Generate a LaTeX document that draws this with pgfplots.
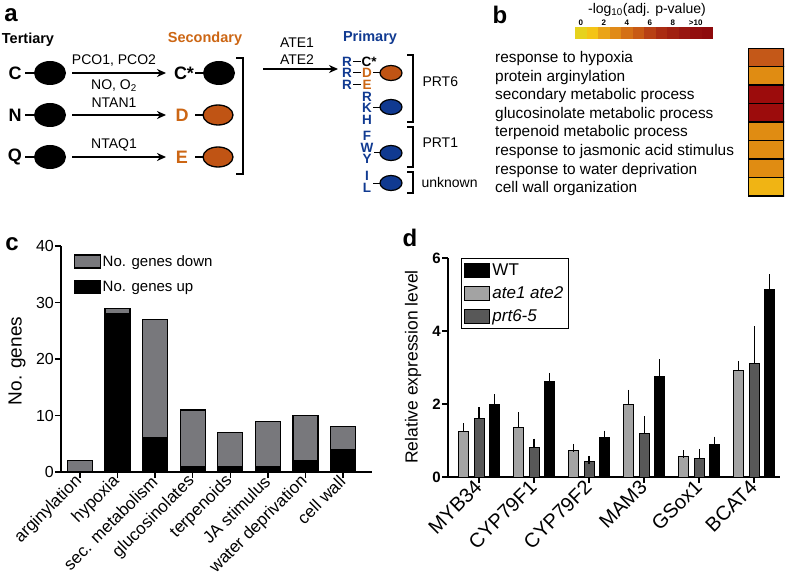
\documentclass[border=0pt]{standalone}
\usepackage{pgfplots}
\pgfplotsset{compat=1.18}
\usepackage{fontspec}
\setmainfont{Liberation Sans}
\usetikzlibrary{arrows.meta}
\definecolor{cgray}{RGB}{120,120,124}
\definecolor{lgray}{RGB}{163,163,163}
\definecolor{dgray}{RGB}{88,88,88}
\definecolor{orng}{RGB}{204,102,20}
\definecolor{orfill}{RGB}{192,84,20}
\definecolor{blu}{RGB}{16,58,145}
\definecolor{cA}{RGB}{230,210,30}
\definecolor{cB}{RGB}{244,196,22}
\definecolor{cC}{RGB}{234,164,24}
\definecolor{cD}{RGB}{224,138,24}
\definecolor{cE}{RGB}{212,112,22}
\definecolor{cF}{RGB}{200,90,20}
\definecolor{cG}{RGB}{184,64,20}
\definecolor{cH}{RGB}{170,44,18}
\definecolor{cI}{RGB}{160,32,16}
\definecolor{cJ}{RGB}{152,22,16}
\definecolor{cK}{RGB}{146,14,14}
\definecolor{cL}{RGB}{142,10,12}
\definecolor{hyp}{RGB}{196,88,24}
\definecolor{argc}{RGB}{224,140,18}
\definecolor{secc}{RGB}{156,12,12}
\definecolor{cwc}{RGB}{240,180,20}
\newcommand{\fs}[1]{\fontsize{#1}{#1}\selectfont}
\begin{document}
\begin{tikzpicture}
\path[use as bounding box] (0pt,0pt) rectangle (787pt,-583pt);
\begin{scope}[x=1pt,y=-1pt]
% ---------------- panel a ----------------
\node[font=\bfseries\fs{24}] at (11,15) {a};
\node[font=\bfseries\fs{14.5}] at (28,40) {Tertiary};
\node[font=\bfseries\fs{14.5}, text=orng] at (205,39) {Secondary};
\node[font=\bfseries\fs{14.5}, text=blu] at (370,38) {Primary};
\foreach \l/\y in {C/73,N/115,Q/157}{
  \node[font=\bfseries\fs{18}] at (15,\y) {\l};
  \draw[line width=1.2pt] (25,\y) -- (35,\y);
  \fill (50,\y) ellipse [x radius=16pt, y radius=12pt];
  \draw[line width=1.5pt, -{Stealth[length=9pt,width=8pt]}] (72,\y) -- (166,\y);
}
\node[font=\fs{14}] at (114,61) {PCO1, PCO2};
\node[font=\fs{14}] at (114,86) {NO, O\textsubscript{2}};
\node[font=\fs{14}] at (114,103) {NTAN1};
\node[font=\fs{14}] at (114,145) {NTAQ1};
\node[font=\bfseries\fs{18}] at (184,73) {C*};
\node[font=\bfseries\fs{18}, text=orng] at (182,115) {D};
\node[font=\bfseries\fs{18}, text=orng] at (182,157) {E};
\foreach \y in {73,115,157}{\draw[line width=1.2pt] (195,\y) -- (204,\y);}
\fill (219,73) ellipse [x radius=16pt, y radius=12pt];
\draw[line width=1.3pt, fill=orfill] (218,115) ellipse [x radius=15pt, y radius=10pt];
\draw[line width=1.3pt, fill=orfill] (218,157) ellipse [x radius=15pt, y radius=10pt];
\draw[line width=1.3pt] (236,58) -- (243,58) -- (243,174) -- (236,174);
\draw[line width=1.5pt, -{Stealth[length=9pt,width=8pt]}] (263,69) -- (338,69);
\node[font=\fs{14}] at (297,43) {ATE1};
\node[font=\fs{14}] at (297,60) {ATE2};
\begin{scope}[every node/.style={font=\bfseries\fs{13.5}, inner sep=0pt}]
\foreach \y in {62,73,85}{
  \node[text=blu] at (347,\y) {R};
  \draw[line width=1pt] (353,\y) -- (361,\y);
}
\node at (369,62) {C*};
\node[text=orng] at (367,73) {D};
\node[text=orng] at (367,85) {E};
\node[text=blu] at (367,97) {R};
\node[text=blu] at (367,108) {K};
\node[text=blu] at (367,120) {H};
\node[text=blu] at (367,136) {F};
\node[text=blu] at (367,148) {W};
\node[text=blu] at (367,159) {Y};
\node[text=blu] at (367,176) {I};
\node[text=blu] at (367,188) {L};
\end{scope}
\draw[line width=1pt] (373,73) -- (380,73);
\draw[line width=1pt] (373,108) -- (380,108);
\draw[line width=1pt] (374,153) -- (380,153);
\draw[line width=1pt] (373,183) -- (380,183);
\draw[line width=1.2pt, fill=orfill] (391,73) ellipse [x radius=11pt, y radius=7.5pt];
\draw[line width=1.2pt, fill=blu] (391,107) ellipse [x radius=11pt, y radius=7.5pt];
\draw[line width=1.2pt, fill=blu] (391,153) ellipse [x radius=11pt, y radius=7.5pt];
\draw[line width=1.2pt, fill=blu] (391,183) ellipse [x radius=11pt, y radius=7.5pt];
\draw[line width=1.3pt] (407,55) -- (413,55) -- (413,122) -- (407,122);
\draw[line width=1.3pt] (407,127) -- (413,127) -- (413,167) -- (407,167);
\draw[line width=1.3pt] (407,172) -- (413,172) -- (413,193) -- (407,193);
\node[font=\fs{14}, anchor=west] at (419,82) {PRT6};
\node[font=\fs{14}, anchor=west] at (419,143) {PRT1};
\node[font=\fs{14}, anchor=west] at (418,182) {unknown};
% ---------------- panel b text ----------------
\node[font=\bfseries\fs{24}] at (500,15) {b};
\node[font=\fs{14}] at (647,10) {-log\textsubscript{10}(adj. p-value)};
\begin{scope}[every node/.style={font=\fs{15.4}, anchor=base west, inner sep=0pt}]
\node at (495,63) {response to hypoxia};
\node at (495,81.5) {protein arginylation};
\node at (495,100) {secondary metabolic process};
\node at (495,118.5) {glucosinolate metabolic process};
\node at (495,137) {terpenoid metabolic process};
\node at (495,155.5) {response to jasmonic acid stimulus};
\node at (495,174) {response to water deprivation};
\node at (495,192.5) {cell wall organization};
\end{scope}
% ---------------- panel c, d text ----------------
\node[font=\bfseries\fs{24}] at (12,244) {c};
\node[font=\fs{19}, rotate=90] at (17,361) {No. genes};
\node[font=\bfseries\fs{24}] at (410,238) {d};
\node[font=\fs{17.5}, rotate=90] at (413,367) {Relative expression level};
\end{scope}
% ---------------- panel b axes ----------------
\begin{axis}[at={(575pt,-39pt)}, anchor=south west, scale only axis,
  width=138pt, height=12pt, xmin=0, xmax=12, ymin=-0.5, ymax=0.5,
  xbar stacked, bar width=12pt,
  axis x line*=top, axis y line=none, x axis line style={draw=none},
  xtick={0.5,2.5,4.5,6.5,8.5,10.5}, xticklabels={0,2,4,6,8,>10},
  xticklabel style={font=\bfseries\fs{8}, inner sep=1pt}, major tick length=0pt]
\addplot[fill=cA, draw=none] coordinates {(1,0)};
\addplot[fill=cB, draw=none] coordinates {(1,0)};
\addplot[fill=cC, draw=none] coordinates {(1,0)};
\addplot[fill=cD, draw=none] coordinates {(1,0)};
\addplot[fill=cE, draw=none] coordinates {(1,0)};
\addplot[fill=cF, draw=none] coordinates {(1,0)};
\addplot[fill=cG, draw=none] coordinates {(1,0)};
\addplot[fill=cH, draw=none] coordinates {(1,0)};
\addplot[fill=cI, draw=none] coordinates {(1,0)};
\addplot[fill=cJ, draw=none] coordinates {(1,0)};
\addplot[fill=cK, draw=none] coordinates {(1,0)};
\addplot[fill=cL, draw=none] coordinates {(1,0)};
\end{axis}
\begin{axis}[at={(748pt,-196pt)}, anchor=south west, scale only axis,
  width=36pt, height=148pt, xmin=-0.5, xmax=0.5, ymin=0, ymax=8,
  hide axis, ybar stacked, bar width=36pt]
\addplot[fill=cwc, draw=black, line width=1.5pt] coordinates {(0,1)};
\addplot[fill=argc, draw=black, line width=1.5pt] coordinates {(0,1)};
\addplot[fill=argc, draw=black, line width=1.5pt] coordinates {(0,1)};
\addplot[fill=argc, draw=black, line width=1.5pt] coordinates {(0,1)};
\addplot[fill=secc, draw=black, line width=1.5pt] coordinates {(0,1)};
\addplot[fill=secc, draw=black, line width=1.5pt] coordinates {(0,1)};
\addplot[fill=argc, draw=black, line width=1.5pt] coordinates {(0,1)};
\addplot[fill=hyp, draw=black, line width=1.5pt] coordinates {(0,1)};
\end{axis}
% ---------------- panel c ----------------
\begin{axis}[at={(61pt,-472pt)}, anchor=south west, scale only axis,
  width=311pt, height=226pt, xmin=-0.505, xmax=7.77, ymin=0, ymax=40,
  axis x line*=bottom, axis y line*=left, axis line style={line width=1.5pt,-},
  ytick={0,10,20,30,40}, xtick={0,...,7},
  xticklabels={arginylation,hypoxia,sec. metabolism,glucosinolates,terpenoids,JA stimulus,water deprivation,cell wall},
  xticklabel style={rotate=45, anchor=east, font=\fs{17}, inner sep=1pt},
  yticklabel style={font=\fs{16}, inner sep=1pt},
  /pgf/number format/assume math mode=true,
  tick align=outside, major tick length=6pt, tick style={line width=1.5pt, black},
  ybar stacked, bar width=25pt,
  every axis plot/.append style={draw=black, line width=1.3pt},
  legend style={at={(0.03,0.975)}, anchor=north west, draw=none, fill=none,
    font=\fs{15}, row sep=9pt, legend cell align=left},
  reverse legend,
  legend image code/.code={\draw[#1, line width=1.2pt] (0pt,-6pt) rectangle (26pt,7pt);}]
\addplot[fill=black, draw=black, line width=1.3pt] coordinates {(0,0) (1,28) (2,6) (3,1) (4,1) (5,1) (6,2) (7,4)};
\addlegendentry{No. genes up}
\addplot[fill=cgray, draw=black, line width=1.3pt] coordinates {(0,2) (1,1) (2,21) (3,10) (4,6) (5,8) (6,8) (7,4)};
\addlegendentry{No. genes down}
\end{axis}
% ---------------- panel d ----------------
\begin{axis}[at={(448pt,-477pt)}, anchor=south west, scale only axis,
  width=332pt, height=219pt, xmin=-0.564, xmax=5.47, ymin=0, ymax=6,
  axis x line*=bottom, axis y line*=left, axis line style={line width=1.5pt,-},
  ytick={0,2,4,6}, xtick={0,...,5},
  xticklabels={MYB34,CYP79F1,CYP79F2,MAM3,GSox1,BCAT4},
  xticklabel style={rotate=45, anchor=east, font=\fs{20}, inner sep=1pt},
  yticklabel style={font=\bfseries\fs{15}, inner sep=1pt},
  /pgf/number format/assume math mode=true,
  tick align=outside, major tick length=6pt, tick style={line width=1.5pt, black},
  ybar, bar width=10pt,
  every axis plot/.append style={draw=black, line width=1pt},
  error bars/y dir=plus, error bars/y explicit,
  error bars/error bar style={line width=1.2pt, black},
  error bars/error mark options={line width=1.2pt, mark size=4pt, black},
  legend style={at={(0.039,1.0)}, anchor=north west, draw=black, line width=1pt, fill=white,
    font=\fs{17}, row sep=6pt, legend cell align=left, inner sep=3pt},
  legend image code/.code={\draw[#1, line width=1pt] (0pt,-7pt) rectangle (25pt,7pt);}]
\addplot[fill=black, draw=black, line width=1pt, bar shift=15.3pt] coordinates {
 (0,1.98) +- (0,0.18) (1,2.61) +- (0,0.13) (2,1.09) +- (0,0.07)
 (3,2.76) +- (0,0.35) (4,0.90) +- (0,0.10) (5,5.15) +- (0,0.29)};
\addlegendentry{WT}
\addplot[fill=lgray, draw=black, line width=1pt, bar shift=-15.3pt] coordinates {
 (0,1.25) +- (0,0.12) (1,1.37) +- (0,0.30) (2,0.73) +- (0,0.07)
 (3,2.00) +- (0,0.28) (4,0.55) +- (0,0.07) (5,2.92) +- (0,0.15)};
\addlegendentry{\itshape ate1 ate2}
\addplot[fill=dgray, draw=black, line width=1pt, bar shift=0pt] coordinates {
 (0,1.60) +- (0,0.20) (1,0.81) +- (0,0.13) (2,0.43) +- (0,0.04)
 (3,1.19) +- (0,0.36) (4,0.50) +- (0,0.16) (5,3.10) +- (0,0.92)};
\addlegendentry{\itshape prt6-5}
\end{axis}
\end{tikzpicture}
\end{document}
